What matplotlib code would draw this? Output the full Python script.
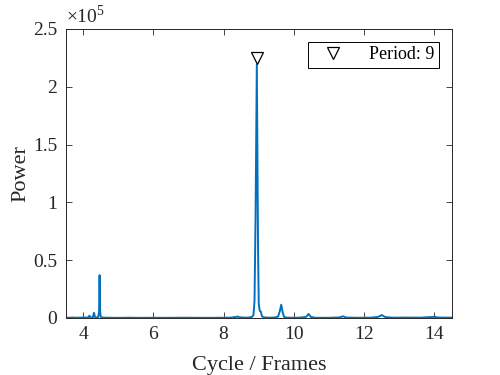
import numpy as np
import matplotlib

matplotlib.use("Agg")
import matplotlib.pyplot as plt
import matplotlib.ticker as mticker

plt.rcParams["font.family"] = ["Liberation Serif", "DejaVu Serif"]
plt.rcParams["mathtext.fontset"] = "custom"
plt.rcParams["mathtext.rm"] = "Liberation Serif"

# periodogram (period in frames, power)
period = [3.50, 3.60, 3.70, 3.80, 3.90, 4.00, 4.05, 4.10, 4.15, 4.18,
          4.21, 4.25, 4.28, 4.31, 4.34, 4.37, 4.40, 4.43, 4.455, 4.47,
          4.485, 4.50, 4.53, 4.60, 4.80, 5.00, 5.30, 5.60, 6.00, 6.40,
          6.80, 7.20, 7.60, 8.00, 8.20, 8.35, 8.40, 8.45, 8.60, 8.70,
          8.80, 8.85, 8.88, 8.91, 8.945, 8.98, 9.00, 9.03, 9.06, 9.09,
          9.15, 9.30, 9.45, 9.55, 9.60, 9.64, 9.68, 9.72, 9.80, 10.00,
          10.20, 10.35, 10.42, 10.48, 10.60, 11.00, 11.30, 11.40, 11.48, 11.80,
          12.20, 12.40, 12.50, 12.60, 12.80, 13.20, 13.60, 13.90, 14.00, 14.10,
          14.50]
power = [300, 200, 400, 250, 300, 350, 500, 300, 600, 2000,
         400, 500, 800, 4500, 800, 400, 500, 900, 5000, 37000,
         6000, 1200, 500, 300, 200, 150, 250, 150, 200, 150,
         250, 200, 150, 250, 300, 900, 1300, 600, 300, 400,
         800, 2500, 15000, 90000, 219000, 60000, 12000, 6000, 5500, 1500,
         500, 300, 400, 1200, 6000, 11500, 5000, 1000, 300, 200,
         400, 1000, 3500, 1000, 200, 200, 500, 1500, 400, 200,
         300, 1000, 2500, 800, 300, 400, 300, 800, 1000, 400,
         300]

peak_period = [8.945]
peak_marker = [225000]
legend_label = "Period: 9"

fig = plt.figure(figsize=(5, 3.75), dpi=100, facecolor="white")
ax = fig.add_axes([0.131, 0.152, 0.773, 0.771])

ax.plot(period, power, color="#0072BD", linewidth=1.4, zorder=2)
ax.plot(peak_period, peak_marker, linestyle="none", marker="v", markersize=9,
        markerfacecolor="none", markeredgecolor="black", markeredgewidth=0.9,
        label=legend_label, zorder=3)

ax.set_xlim(3.5, 14.5)
ax.set_ylim(0, 250000)
ax.set_xticks([4, 6, 8, 10, 12, 14])
ax.set_yticks([0, 50000, 100000, 150000, 200000, 250000])
ax.yaxis.set_major_formatter(mticker.FuncFormatter(lambda v, _: f"{v / 1e5:g}"))

ax.tick_params(direction="in", top=True, right=True, length=4, width=0.6,
               labelsize=14, colors="#262626", pad=6)
for s in ax.spines.values():
    s.set_linewidth(0.7)
    s.set_color("#262626")

ax.text(0.0, 1.005, r"$\times$10$^{5}$", transform=ax.transAxes,
        fontsize=14, color="#262626", ha="left", va="bottom")

ax.set_xlabel("Cycle / Frames", fontsize=16, color="#262626", labelpad=9)
ax.set_ylabel("Power", fontsize=16, color="#262626", labelpad=2)

leg = ax.legend(loc="upper right", fontsize=13, frameon=True, fancybox=False,
                edgecolor="black", framealpha=1, borderpad=0.25,
                handletextpad=0.9, handlelength=2.2, borderaxespad=0.3,
                bbox_to_anchor=(0.98, 0.975))
leg.get_frame().set_linewidth(0.7)

fig.savefig("out.png", dpi=100, facecolor="white")
plt.close(fig)
